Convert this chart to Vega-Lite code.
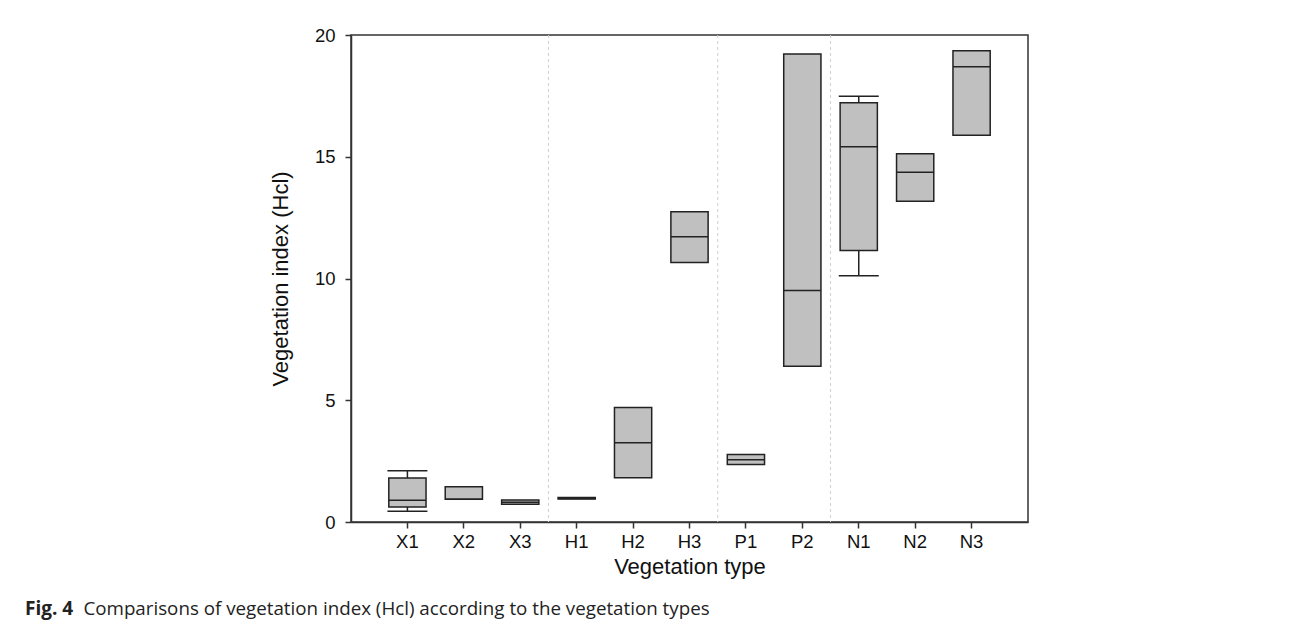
{
  "$schema": "https://vega.github.io/schema/vega-lite/v6.json",
  "width": 677,
  "height": 487,
  "autosize": {"type": "none"},
  "padding": {"left": 351, "top": 35, "right": 264, "bottom": 102},
  "background": "white",
  "title": {
    "text": "Fig. 4",
    "subtitle": "\u200b\u00a0\u00a0\u00a0\u00a0\u00a0\u00a0\u00a0\u00a0\u00a0\u00a0\u00a0\u00a0Comparisons of vegetation index (Hcl) according to the vegetation types",
    "orient": "bottom",
    "anchor": "start",
    "frame": "group",
    "dx": -326,
    "offset": 22,
    "font": "Open Sans",
    "fontSize": 19,
    "fontWeight": "bold",
    "color": "#222",
    "subtitleFont": "Open Sans",
    "subtitleFontSize": 18.75,
    "subtitleFontWeight": "normal",
    "subtitleColor": "#222",
    "subtitlePadding": -19
  },
  "datasets": {
    "boxes": [
      {"type": "X1", "lo": 0.44, "q1": 0.62, "med": 0.89, "q3": 1.81, "hi": 2.10},
      {"type": "X2", "lo": null, "q1": 0.93, "med": 0.93, "q3": 1.45, "hi": null},
      {"type": "X3", "lo": null, "q1": 0.73, "med": 0.81, "q3": 0.90, "hi": null},
      {"type": "H1", "lo": null, "q1": 0.94, "med": 0.97, "q3": 1.01, "hi": null},
      {"type": "H2", "lo": null, "q1": 1.82, "med": 3.25, "q3": 4.70, "hi": null},
      {"type": "H3", "lo": null, "q1": 10.66, "med": 11.71, "q3": 12.74, "hi": null},
      {"type": "P1", "lo": null, "q1": 2.36, "med": 2.56, "q3": 2.77, "hi": null},
      {"type": "P2", "lo": null, "q1": 6.40, "med": 9.51, "q3": 19.22, "hi": null},
      {"type": "N1", "lo": 10.11, "q1": 11.15, "med": 15.41, "q3": 17.22, "hi": 17.48},
      {"type": "N2", "lo": null, "q1": 13.17, "med": 14.36, "q3": 15.12, "hi": null},
      {"type": "N3", "lo": null, "q1": 15.88, "med": 18.70, "q3": 19.35, "hi": null}
    ],
    "seps": [{"type": "H1"}, {"type": "P1"}, {"type": "N1"}]
  },
  "config": {
    "view": {"stroke": "#333", "strokeWidth": 1.5},
    "axis": {
      "labelFont": "Liberation Sans",
      "titleFont": "Liberation Sans",
      "labelColor": "#111",
      "titleColor": "#111",
      "labelFontSize": 18.5,
      "titleFontSize": 22,
      "titleFontWeight": "normal",
      "domainColor": "#333",
      "domainWidth": 1.5,
      "tickColor": "#333",
      "tickWidth": 1.5,
      "tickSize": 6,
      "grid": false
    }
  },
  "encoding": {
    "x": {
      "field": "type",
      "type": "nominal",
      "sort": ["X1", "X2", "X3", "H1", "H2", "H3", "P1", "P2", "N1", "N2", "N3"],
      "scale": {"domain": ["X1", "X2", "X3", "H1", "H2", "H3", "P1", "P2", "N1", "N2", "N3"], "paddingInner": 0, "paddingOuter": 0.5},
      "axis": {"title": "Vegetation type", "labelAngle": 0, "labelPadding": 4, "titlePadding": 6}
    }
  },
  "layer": [
    {
      "data": {"name": "seps"},
      "mark": {"type": "rule", "color": "#cfcfcf", "strokeDash": [3, 3], "strokeWidth": 1},
      "encoding": {
        "x": {"field": "type", "type": "nominal", "bandPosition": 0}
      }
    },
    {
      "data": {"name": "boxes"},
      "transform": [{"filter": "datum.lo != null"}],
      "mark": {"type": "rule", "color": "#222", "strokeWidth": 1.5},
      "encoding": {
        "y": {"field": "lo", "type": "quantitative"},
        "y2": {"field": "hi"}
      }
    },
    {
      "data": {"name": "boxes"},
      "transform": [{"filter": "datum.lo != null"}],
      "mark": {"type": "tick", "color": "#222", "thickness": 1.5, "size": 40, "opacity": 1},
      "encoding": {
        "y": {"field": "lo", "type": "quantitative"}
      }
    },
    {
      "data": {"name": "boxes"},
      "transform": [{"filter": "datum.hi != null"}],
      "mark": {"type": "tick", "color": "#222", "thickness": 1.5, "size": 40, "opacity": 1},
      "encoding": {
        "y": {"field": "hi", "type": "quantitative"}
      }
    },
    {
      "data": {"name": "boxes"},
      "mark": {"type": "bar", "fill": "#c0c0c0", "stroke": "#222", "strokeWidth": 1.5, "width": {"band": 0.66}},
      "encoding": {
        "y": {
          "field": "q1",
          "type": "quantitative",
          "scale": {"domain": [0, 20], "nice": false, "zero": true},
          "axis": {"values": [0, 5, 10, 15, 20], "title": "Vegetation index (Hcl)", "labelPadding": 10, "titlePadding": 22}
        },
        "y2": {"field": "q3"}
      }
    },
    {
      "data": {"name": "boxes"},
      "mark": {"type": "tick", "color": "#222", "thickness": 1.5, "size": 37, "opacity": 1},
      "encoding": {
        "y": {"field": "med", "type": "quantitative"}
      }
    }
  ]
}
